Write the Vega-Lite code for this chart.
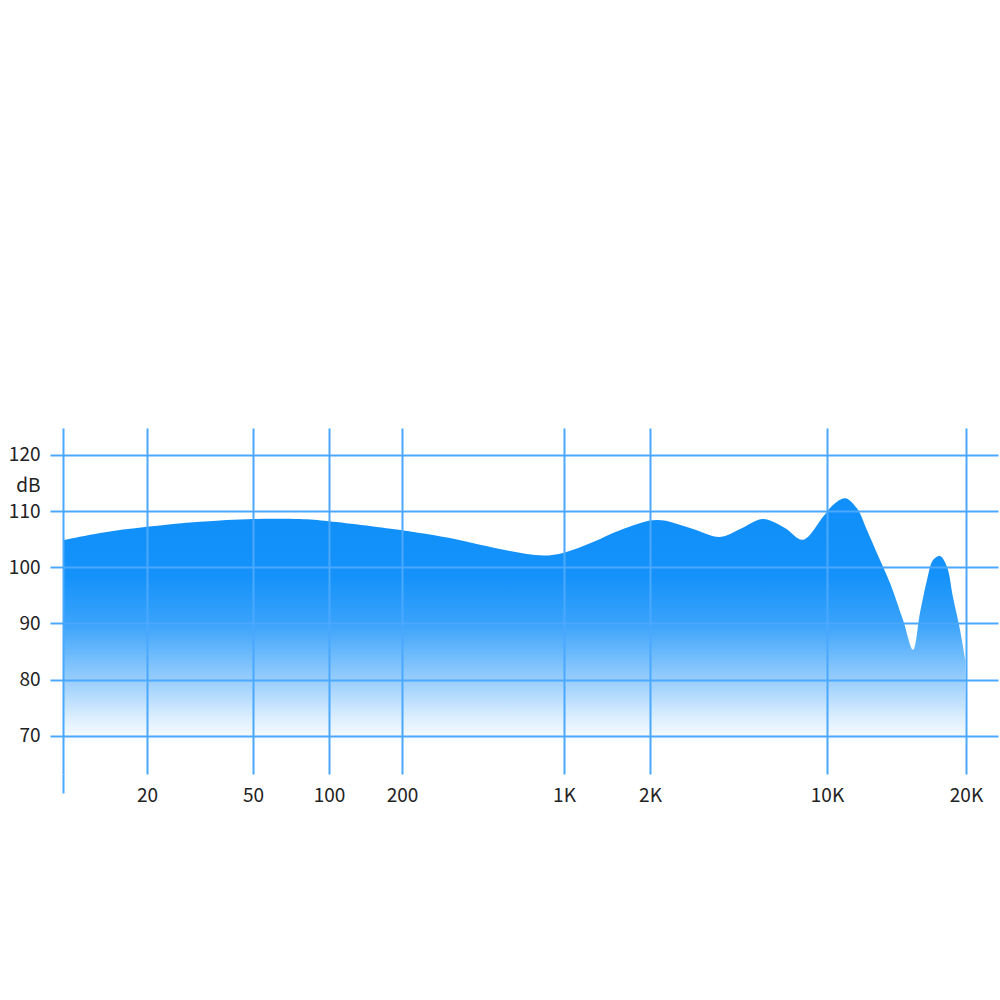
{
  "$schema": "https://vega.github.io/schema/vega-lite/v6.json",
  "width": 935,
  "height": 346,
  "autosize": "none",
  "padding": {"left": 63, "top": 428, "right": 2, "bottom": 226},
  "background": "white",
  "config": {"view": {"stroke": null}, "font": "Noto Sans CJK SC"},
  "data": {"values": [
    {"freq": 10, "db": 104.8},
    {"freq": 13.6, "db": 106.1},
    {"freq": 20, "db": 107.2},
    {"freq": 31.6, "db": 108.1},
    {"freq": 50, "db": 108.6},
    {"freq": 76.7, "db": 108.6},
    {"freq": 100, "db": 108.2},
    {"freq": 200, "db": 106.6},
    {"freq": 239, "db": 106.1},
    {"freq": 322, "db": 105.2},
    {"freq": 434, "db": 104.0},
    {"freq": 585, "db": 102.9},
    {"freq": 812, "db": 102.1},
    {"freq": 1000, "db": 102.6},
    {"freq": 1263, "db": 104.5},
    {"freq": 1571, "db": 106.6},
    {"freq": 2130, "db": 108.4},
    {"freq": 2878, "db": 107.0},
    {"freq": 3778, "db": 105.4},
    {"freq": 4536, "db": 106.8},
    {"freq": 5585, "db": 108.6},
    {"freq": 6820, "db": 107.0},
    {"freq": 8040, "db": 104.9},
    {"freq": 9650, "db": 109.0},
    {"freq": 10300, "db": 111.1},
    {"freq": 10940, "db": 112.3},
    {"freq": 11610, "db": 110.5},
    {"freq": 12210, "db": 106.6},
    {"freq": 12830, "db": 102.5},
    {"freq": 13690, "db": 97.2},
    {"freq": 14610, "db": 90.6},
    {"freq": 15360, "db": 85.3},
    {"freq": 15900, "db": 91.9},
    {"freq": 16470, "db": 97.8},
    {"freq": 16970, "db": 101.3},
    {"freq": 17570, "db": 102.0},
    {"freq": 18190, "db": 100.1},
    {"freq": 18740, "db": 94.7},
    {"freq": 19420, "db": 88.8},
    {"freq": 19930, "db": 83.5}
  ]},
  "mark": {
    "type": "area",
    "interpolate": "catmull-rom",
    "fill": {
      "gradient": "linear",
      "x1": 0, "y1": 0, "x2": 0, "y2": 1,
      "stops": [
        {"offset": 0, "color": "#108ffa"},
        {"offset": 0.32, "color": "#1592fa"},
        {"offset": 0.51, "color": "#3aa3fb"},
        {"offset": 0.74, "color": "#98cefc"},
        {"offset": 0.9, "color": "#dff0fe"},
        {"offset": 1, "color": "#ffffff"}
      ]
    }
  },
  "encoding": {
    "x": {
      "field": "freq",
      "type": "quantitative",
      "scale": {
        "type": "log",
        "domain": [10, 20, 50, 100, 200, 1000, 2000, 10000, 20000, 30000],
        "range": [0, 84, 190, 266, 339, 501, 587, 764, 903, 935],
        "nice": false
      },
      "axis": {
        "title": null,
        "values": [10, 20, 50, 100, 200, 1000, 2000, 10000, 20000],
        "labelExpr": "datum.value == 10 ? '' : datum.value >= 1000 ? (datum.value / 1000) + 'K' : datum.value",
        "grid": true,
        "gridColor": "#4aa8ff",
        "gridWidth": 2,
        "domain": false,
        "ticks": true,
        "tickSize": 19,
        "tickWidth": 2,
        "tickColor": "#4aa8ff",
        "tickOpacity": {"condition": {"test": "datum.value == 10", "value": 1}, "value": 0},
        "labelFontSize": 19,
        "labelColor": "#222222",
        "labelPadding": -7,
        "labelFlush": false,
        "labelOverlap": false,
        "zindex": 1
      }
    },
    "y": {
      "field": "db",
      "type": "quantitative",
      "scale": {"domain": [63.2, 124.8], "nice": false, "zero": false},
      "axis": {
        "title": "dB",
        "titleAngle": 0,
        "titleAlign": "right",
        "titleBaseline": "middle",
        "titleX": -23,
        "titleY": 57,
        "titleFontSize": 19,
        "titleFontWeight": "normal",
        "titleColor": "#222222",
        "values": [70, 80, 90, 100, 110, 120],
        "grid": true,
        "gridColor": "#4aa8ff",
        "gridWidth": 2,
        "domain": false,
        "tickSize": 13,
        "tickWidth": 2,
        "tickColor": "#4aa8ff",
        "labelPadding": 10,
        "labelFontSize": 19,
        "labelColor": "#222222",
        "zindex": 1
      }
    },
    "y2": {"datum": 68.5}
  }
}
